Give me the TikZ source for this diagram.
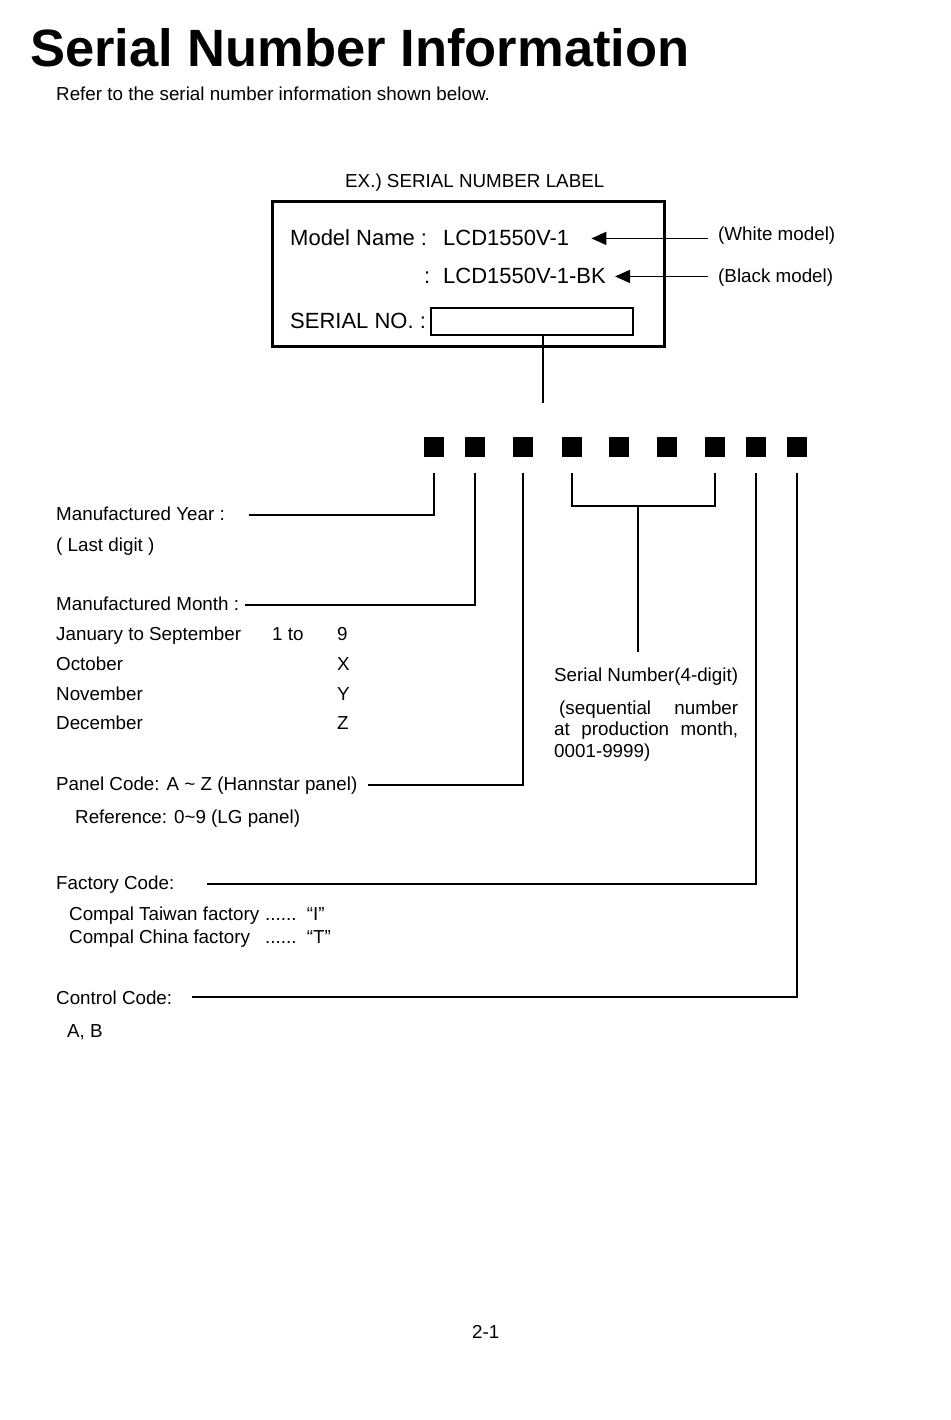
\documentclass[tikz,border=0pt]{standalone}
\usepackage{fontspec}
\setmainfont{Liberation Sans}
\newfontfamily\ttlfont{Liberation Sans}
\usepackage{tikz}
\usetikzlibrary{arrows.meta,calc}
\definecolor{inkline}{rgb}{0,0,0}
\definecolor{pagefill}{rgb}{1,1,1}

\begin{document}
\begin{tikzpicture}[x=1pt,y=-1pt]
\tikzset{txt/.style={anchor=base west, inner sep=0pt, font=\fontsize{18.8}{22}\selectfont},
big/.style={anchor=base west, inner sep=0pt, font=\fontsize{22}{26}\selectfont},
cnx/.style={draw=inkline, line width=1.6pt},
arr/.style={cnx, -{Triangle[length=15pt,width=13pt]}},
sq/.style={fill=inkline, minimum size=20pt, inner sep=0pt}}
\fill[pagefill] (0,0) rectangle (950,1420);
\useasboundingbox (0,0) rectangle (950,1420);

\node (ttl) at (30,67) [anchor=base west, inner sep=0pt, font=\ttlfont\bfseries\fontsize{52.5}{56}\selectfont] {Serial Number Information};
\node (ref) at (56,101) [txt] {Refer to the serial number information shown below.};

\node (ex) at (345,188) [txt] {EX.) SERIAL NUMBER LABEL};
\node (box) at (468,274) [draw=inkline, line width=3pt, minimum width=392pt, minimum height=144pt] {};
\node (mnl) at (290,246) [big] {Model Name :};
\node (mw) at (443,246) [big] {LCD1550V-1};
\node (cb) at (424,284) [big] {:};
\node (mb) at (443,284) [big] {LCD1550V-1-BK};
\node (sn) at (290,328) [big] {SERIAL NO. :};
\node (fld) at (532,321.5) [draw=inkline, line width=1.5pt, minimum width=202pt, minimum height=27pt, inner sep=0pt] {};
\node (wm) at (718,241) [txt] {(White model)};
\node (bm) at (718,283) [txt] {(Black model)};
\draw[arr] ($(wm.west |- mw.east)+(-10,0)$) -- ($(mw.east)+(22,0)$);
\draw[arr] ($(bm.west |- mb.east)+(-10,0)$) -- ($(mb.east)+(9,0)$);
\coordinate (lt) at (543,403);
\draw[cnx] (lt |- fld.south) -- (lt);

\foreach \n/\x in {1/434,2/475,3/523,4/572,5/619,6/667,7/715,8/756,9/797}
  \node (sq\n) at (\x,446.5) [sq] {};

\node (yr) at (56,520) [txt] {Manufactured Year :};
\node (yr2) at (56,551) [txt] {( Last digit )};
\node (mo) at (56,610) [txt] {Manufactured Month :};
\node (mo1) at (56,640) [txt] {\makebox[216pt][l]{January to September}\makebox[65pt][l]{1 to}9};
\node (mo2) at (56,670) [txt] {\makebox[281pt][l]{October}X};
\node (mo3) at (56,700) [txt] {\makebox[281pt][l]{November}Y};
\node (mo4) at (56,729) [txt] {\makebox[281pt][l]{December}Z};
\node (pc) at (56,790) [txt] {Panel Code: A \textasciitilde{} Z (Hannstar panel)};
\node (pc2) at (75,823) [txt] {Reference: 0\textasciitilde 9 (LG panel)};
\node (fc) at (56,889) [txt] {Factory Code:};
\node (fc1) at (69,920) [txt] {\makebox[196pt][l]{Compal Taiwan factory}......\ \ “I”};
\node (fc2) at (69,943) [txt] {\makebox[196pt][l]{Compal China factory}......\ \ “T”};
\node (cc) at (56,1004) [txt] {Control Code:};
\node (cc1) at (67,1037) [txt] {A, B};
\node (snum) at (554,681) [txt] {Serial Number(4-digit)};
\node (sdesc) at (554,714) [txt, text width=184pt, align=left, font=\fontsize{18.8}{21.5}\selectfont] {\hspace*{5pt}(sequential\hfill number\\ at\hfill production\hfill month,\\ 0001-9999)};
\node (pg) at (472,1338) [txt] {2-1};

\draw[cnx] ($(sq1.south)+(0,16)$) |- ($(yr.east)+(24,2)$);
\draw[cnx] ($(sq2.south)+(0,16)$) |- ($(mo.east)+(6,2)$);
\draw[cnx] ($(sq3.south)+(0,16)$) |- ($(pc.east)+(10,0)$);
\coordinate (br) at (638,506);
\draw[cnx] ($(sq4.south)+(0,16)$) |- (br) -| ($(sq7.south)+(0,16)$);
\draw[cnx] (br) -- ($(br |- snum.north)+(0,-15)$);
\draw[cnx] ($(sq8.south)+(0,16)$) |- ($(fc.east)+(33,0)$);
\draw[cnx] ($(sq9.south)+(0,16)$) |- ($(cc.east)+(20,0)$);

\end{tikzpicture}
\end{document}
